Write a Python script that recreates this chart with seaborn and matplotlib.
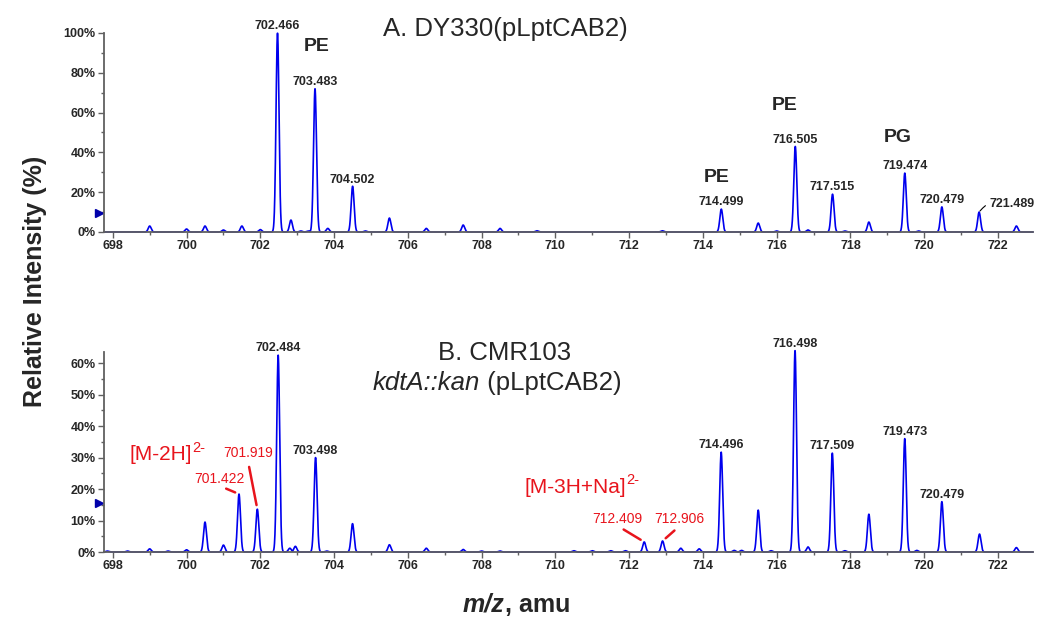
import numpy as np
import pandas as pd
import seaborn as sns
import matplotlib.pyplot as plt
from matplotlib.ticker import MultipleLocator, FuncFormatter
from matplotlib import transforms

# peak lists (m/z, relative intensity in %)
a_mz = [699.0, 700.0, 700.5, 701.0, 701.5, 702.0, 702.466, 702.83, 703.1, 703.3,
        703.483, 703.83, 704.502, 704.85, 705.5, 706.5, 707.5, 708.5, 709.5, 712.9,
        714.499, 715.5, 716.0, 716.505, 716.85, 717.515, 717.85, 718.5, 719.474,
        719.85, 720.479, 721.489, 722.5]
a_int = [3, 1.5, 3, 1, 3, 1.2, 100, 6, 0.5, 0.5,
         72, 1.8, 23, 0.5, 7, 1.8, 3.5, 1.8, 0.6, 0.6,
         11.5, 4.5, 0.5, 43, 1, 19, 0.5, 5, 29.6,
         0.5, 12.6, 10, 3]

b_mz = [697.85, 698.4, 699.0, 699.5, 700.0, 700.5, 701.0, 701.422, 701.919, 702.484,
        702.8, 702.95, 703.498, 703.8, 704.5, 705.5, 706.5, 707.5, 708.0, 708.5,
        710.5, 711.0, 711.5, 711.9, 712.409, 712.906, 713.4, 713.9, 714.496, 714.85,
        715.05, 715.5, 715.85, 716.498, 716.85, 717.509, 717.85, 718.5, 719.473, 719.8,
        720.479, 721.5, 722.5]
b_int = [0.3, 0.3, 1.0, 0.3, 0.7, 9.5, 2.2, 18.4, 13.6, 62.5,
         1.2, 1.8, 30, 0.3, 9, 2.3, 1.2, 0.8, 0.3, 0.3,
         0.4, 0.4, 0.4, 0.4, 3.2, 3.5, 1.2, 1.0, 31.7, 0.5,
         0.5, 13.3, 0.4, 64, 1.6, 31.4, 0.4, 12, 36, 0.5,
         16, 5.7, 1.4]

# labelled peaks
a_labels = ['702.466', '703.483', '704.502', '714.499', '716.505', '717.515', '719.474', '720.479']
b_labels = ['702.484', '703.498', '714.496', '716.498', '717.509', '719.473', '720.479']

# lipid class tags on panel A: (text, m/z, %)
a_tags = [('PE', 703.53, 93), ('PE', 714.38, 27.6), ('PE', 716.22, 63.8), ('PG', 719.29, 47.7)]

# red doubly charged ions on panel B: (label, text m/z, text %)
b_red = [('701.422', 700.90, 23.2), ('701.919', 701.66, 31.4),
         ('712.409', 711.69, 10.5), ('712.906', 713.37, 10.5)]

XLIM = (697.76, 722.95)
BLUE = '#0000ee'
RED = '#e8141c'
GREY = '#606060'

sns.set_style('ticks')
plt.rcParams['font.family'] = ['Liberation Sans', 'DejaVu Sans']


def profile(mz, inten, sigma=0.04):
    # draw each centroid as a narrow gaussian peak
    x = np.arange(XLIM[0], XLIM[1], 0.004)
    y = np.zeros_like(x)
    for c, h in zip(mz, inten):
        y = np.maximum(y, h * np.exp(-0.5 * ((x - c) / sigma) ** 2))
    return pd.DataFrame({'mz': x, 'intensity': y})


def style_axis(ax, ymax, ystep):
    ax.set_xlim(*XLIM)
    ax.set_ylim(0, ymax)
    ax.set_xlabel('')
    ax.set_ylabel('')
    sns.despine(ax=ax)
    for s in ['left', 'bottom']:
        ax.spines[s].set_color(GREY)
        ax.spines[s].set_linewidth(1.3)
    ax.xaxis.set_major_locator(MultipleLocator(2))
    ax.xaxis.set_minor_locator(MultipleLocator(1))
    ax.yaxis.set_major_locator(MultipleLocator(ystep))
    ax.yaxis.set_minor_locator(MultipleLocator(ystep / 2))
    ax.yaxis.set_major_formatter(FuncFormatter(lambda v, p: f'{v:.0f}%'))
    ax.tick_params(which='both', direction='out', color=GREY, width=1, labelsize=9, pad=2)
    ax.tick_params(which='major', length=4)
    ax.tick_params(which='minor', length=2.5)
    plt.setp(ax.get_xticklabels() + ax.get_yticklabels(), fontweight='bold')


def nearest(mz, inten, v):
    i = int(np.argmin(np.abs(np.array(mz) - v)))
    return mz[i], inten[i]


def peak_labels(ax, mz, inten, labels):
    for lab in labels:
        ax.annotate(lab, nearest(mz, inten, float(lab)), xytext=(0, 0.5),
                    textcoords='offset points', ha='center', va='bottom',
                    fontsize=9, fontweight='bold', annotation_clip=False)


def threshold_marker(ax, level):
    off = transforms.offset_copy(ax.transData, fig=ax.figure, x=-3.5, y=0, units='points')
    ax.plot([XLIM[0]], [level], marker='>', color='#0000aa', markersize=6,
            transform=off, clip_on=False)


fig = plt.figure(figsize=(10.5, 6.26), dpi=100)
ax_a = fig.add_axes([0.0990, 0.6294, 0.8848, 0.3179])
ax_b = fig.add_axes([0.0990, 0.1182, 0.8848, 0.3195])

# panel A
sns.lineplot(data=profile(a_mz, a_int), x='mz', y='intensity', ax=ax_a, color=BLUE,
             lw=1.2, estimator=None, sort=False, clip_on=False)
style_axis(ax_a, 100, 20)
peak_labels(ax_a, a_mz, a_int, a_labels)
for txt, x, y in a_tags:
    ax_a.text(x, y, txt, ha='center', va='center', fontsize=14, fontweight='bold')
ax_a.annotate('721.489', xy=nearest(a_mz, a_int, 721.489), xytext=(721.78, 14),
              ha='left', va='center', fontsize=9, fontweight='bold',
              arrowprops=dict(arrowstyle='-', connectionstyle='arc3,rad=0.4', lw=0.8,
                              color='black', shrinkA=1, shrinkB=1))
threshold_marker(ax_a, 9.5)

# panel B
sns.lineplot(data=profile(b_mz, b_int), x='mz', y='intensity', ax=ax_b, color=BLUE,
             lw=1.2, estimator=None, sort=False, clip_on=False)
style_axis(ax_b, 63.5, 10)
peak_labels(ax_b, b_mz, b_int, b_labels)
for lab, tx, ty in b_red:
    ax_b.annotate(lab, xy=nearest(b_mz, b_int, float(lab)), xytext=(tx, ty),
                  ha='center', va='center', fontsize=10, color=RED,
                  arrowprops=dict(arrowstyle='-', color=RED, lw=1.8, relpos=(0.5, 0),
                                  patchA=None, shrinkA=5, shrinkB=3))
for main, x, y in [('[M-2H]', 698.46, 30.8), ('[M-3H+Na]', 709.17, 20.6)]:
    t = ax_b.text(x, y, main, ha='left', va='center', fontsize=15, color=RED)
    ax_b.annotate('2-', xy=(1.0, 0.5), xycoords=t, ha='left', va='bottom',
                  fontsize=10.5, color=RED)
threshold_marker(ax_b, 15.5)

# titles and axis labels
fig.text(505 / 1050, 1 - 29 / 626, 'A. DY330(pLptCAB2)', ha='center', va='center', fontsize=18.5)
fig.text(505 / 1050, 1 - 353 / 626, 'B. CMR103', ha='center', va='center', fontsize=18.5)
t = fig.text(373 / 1050, 1 - 383 / 626, 'kdtA::kan', ha='left', va='center', fontsize=18.5,
             style='italic')
fig.add_artist(plt.Annotation(' (pLptCAB2)', xy=(1, 0), xycoords=t, ha='left', va='bottom',
                              fontsize=18.5))

fig.text(35 / 1050, 1 - 281 / 626, 'Relative Intensity (%)', rotation=90, ha='center',
         va='center', fontsize=18, fontweight='bold')
t = fig.text(463 / 1050, 1 - 605 / 626, 'm/z', ha='left', va='center', fontsize=18,
             fontweight='bold', style='italic')
fig.add_artist(plt.Annotation(', amu', xy=(1, 0), xycoords=t, ha='left', va='bottom',
                              fontsize=18, fontweight='bold'))

fig.savefig('out.png', dpi=100)
